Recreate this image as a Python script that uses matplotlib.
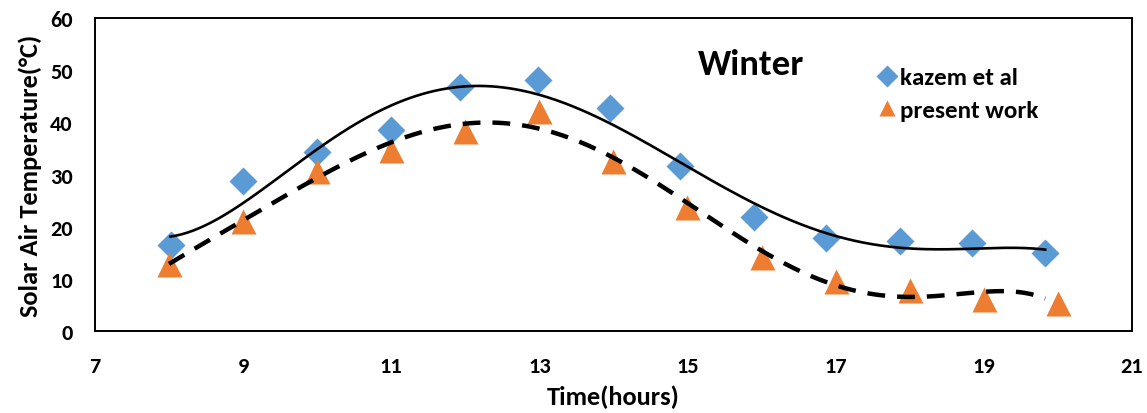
import numpy as np
import matplotlib.pyplot as plt
from matplotlib.lines import Line2D

# données
kazem_x = [8.02, 9.0, 10.0, 11.0, 11.93, 12.98, 13.95, 14.9, 15.9, 16.87, 17.87, 18.84, 19.83]
kazem_y = [16.5, 28.7, 34.3, 38.5, 46.7, 48.1, 42.7, 31.6, 21.8, 17.8, 17.2, 16.9, 14.9]
present_x = [8, 9, 10, 11, 12, 13, 14, 15, 16, 17, 18, 19, 20]
present_y = [12.8, 21.1, 30.6, 34.7, 38.3, 42.1, 32.6, 23.8, 14.2, 9.6, 7.9, 6.1, 5.4]
x_ticks = [7, 9, 11, 13, 15, 17, 19, 21]
y_ticks = [0, 10, 20, 30, 40, 50, 60]

plt.rcParams['font.family'] = ['Carlito', 'Open Sans', 'DejaVu Sans']
plt.rcParams['font.weight'] = 'bold'

fig = plt.figure(figsize=(11.47, 4.14), dpi=100)
ax = fig.add_axes([0.0828, 0.198, 0.904, 0.756])

blue = '#5B9BD5'
orange = '#ED7D31'

# courbes de tendance polynomiales
xs = np.linspace(min(kazem_x), max(kazem_x), 300)
p1 = np.polyfit(kazem_x, kazem_y, 5)
ax.plot(xs, np.polyval(p1, xs), color='black', lw=1.9, zorder=3)

xs2 = np.linspace(min(present_x), 19.83, 300)
p2 = np.polyfit(present_x, present_y, 6)
ax.plot(xs2, np.polyval(p2, xs2), color='black', lw=3.2, dashes=(4, 2.7), zorder=3)

ax.plot(kazem_x, kazem_y, 'D', color=blue, ms=14.5, mec='none', zorder=2)
ax.plot(present_x, present_y, '^', color=orange, ms=18, mec='none', zorder=2)

ax.set_xlim(7, 21)
ax.set_ylim(0, 60)
ax.set_xticks(x_ticks)
ax.set_yticks(y_ticks)
ax.tick_params(length=0, labelsize=16)
ax.tick_params(axis='x', pad=18)
ax.tick_params(axis='y', pad=16)
for s in ax.spines.values():
    s.set_linewidth(1.4)

ax.set_xlabel('Time(hours)', fontsize=19, fontweight='bold', labelpad=6)
ax.set_ylabel('Solar Air Temperature(°C)', fontsize=19, fontweight='bold', labelpad=6)

ax.text(15.86, 51.2, 'Winter', fontsize=26.5, fontweight='bold', ha='center', va='center')

handles = [Line2D([], [], ls='none', marker='D', color=blue, ms=11, mec='none'),
           Line2D([], [], ls='none', marker='^', color=orange, ms=12, mec='none')]
ax.legend(handles, ['kazem et al', 'present work'], loc='center left',
          bbox_to_anchor=(0.7548, 0.757), frameon=False, fontsize=18, borderpad=0,
          borderaxespad=0, handletextpad=0.15, handlelength=0.75, labelspacing=0.45)

fig.savefig('out.png', dpi=100)
